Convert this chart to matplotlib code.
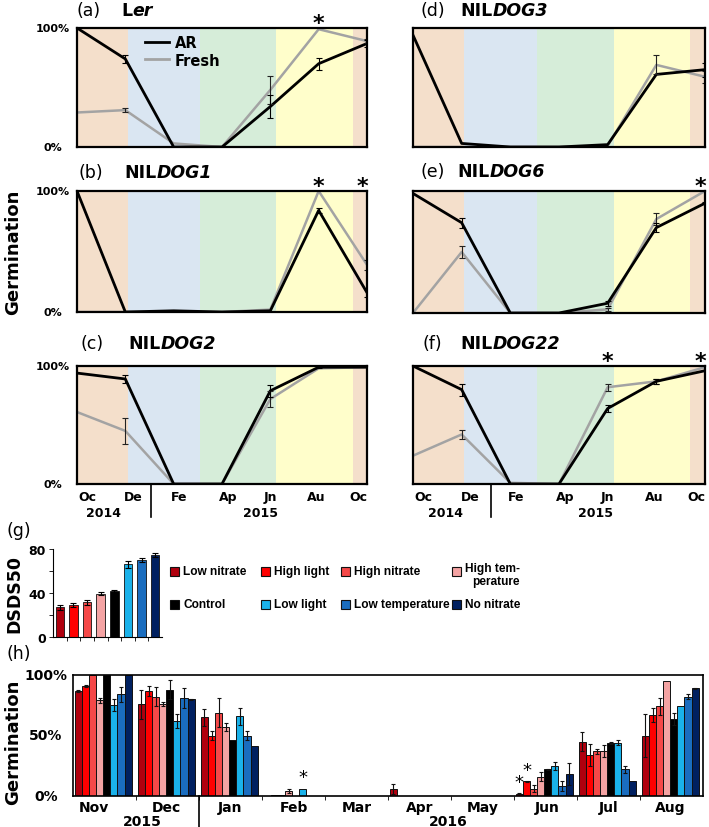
import matplotlib
matplotlib.use('Agg')
import matplotlib.pyplot as plt
from matplotlib.patches import Rectangle
from matplotlib.lines import Line2D
import matplotlib.transforms as mtransforms
import numpy as np

plt.rcParams['font.family'] = 'DejaVu Sans'

# ---------------- data: panels (a)-(f) ----------------
months_top = ['Oc', 'De', 'Fe', 'Ap', 'Jn', 'Au', 'Oc']
years_top = ['2014', '2015']

ler_ar = [100, 74, 0, 0, 34, 70, 87]
ler_ar_err = [0, 3, 0, 0, 10, 5, 3]
ler_fresh = [29, 31, 3, 0, 48, 99, 89]
ler_fresh_err = [0, 2, 0, 0, 12, 0, 2]

dog1_ar = [100, 0, 1, 0, 1, 84, 16]
dog1_ar_err = [0, 0, 0, 0, 0, 2, 4]
dog1_fresh = [0, 0, 0, 0, 2, 100, 39]
dog1_fresh_err = [0, 0, 0, 0, 0, 0, 4]

dog2_ar = [94, 89, 0, 0, 79, 99, 99]
dog2_ar_err = [0, 3, 0, 0, 5, 1, 0]
dog2_fresh = [61, 45, 0, 0, 72, 98, 99]
dog2_fresh_err = [0, 11, 0, 0, 7, 0, 0]

dog3_ar = [94, 3, 0, 0, 2, 61, 65]
dog3_ar_err = [0, 0, 0, 0, 0, 0, 6]
dog3_fresh = [0, 0, 0, 0, 1, 69, 59]
dog3_fresh_err = [0, 0, 0, 0, 0, 8, 5]

dog6_ar = [98, 74, 0, 0, 8, 70, 90]
dog6_ar_err = [0, 4, 0, 0, 2, 4, 1]
dog6_fresh = [0, 50, 0, 0, 3, 77, 100]
dog6_fresh_err = [0, 5, 0, 0, 1, 5, 0]

dog22_ar = [100, 80, 0, 0, 64, 87, 96]
dog22_ar_err = [0, 5, 0, 0, 3, 2, 0]
dog22_fresh = [24, 42, 1, 0, 82, 87, 99]
dog22_fresh_err = [0, 4, 0, 0, 3, 2, 0]

# ---------------- data: panel (g) ----------------
treatments = ['Low nitrate', 'High light', 'High nitrate', 'High tem-\nperature',
              'Control', 'Low light', 'Low temperature', 'No nitrate']
dsds50 = [27, 29, 31.5, 39.5, 41.5, 66, 70, 74.5]
dsds50_err = [2, 2, 2, 1.5, 1.5, 3.5, 2, 1.5]

# ---------------- data: panel (h) ----------------
months_h = ['Nov', 'Dec', 'Jan', 'Feb', 'Mar', 'Apr', 'May', 'Jun', 'Jul', 'Aug']
years_h = ['2015', '2016']
germ_low_nitrate = [87, 76, 65, 0, 0, 6, 0, 2, 45, 50]
germ_low_nitrate_err = [1, 12, 7, 0, 0, 4, 0, 0.5, 8, 18]
germ_high_light = [91, 87, 50, 0.5, 0, 0, 0, 12, 34, 67]
germ_high_light_err = [1, 4, 4, 0, 0, 0, 0, 0.5, 9, 6]
germ_high_nitrate = [100, 82, 69, 1, 0, 0, 0, 6, 37, 74]
germ_high_nitrate_err = [0, 8, 12, 0, 0, 0, 0, 3, 2, 7]
germ_high_temp = [79, 76, 57, 4, 0, 0, 0, 16, 37, 95]
germ_high_temp_err = [2, 2, 3, 1.5, 0, 0, 0, 4, 5, 0]
germ_control = [100, 88, 46, 0, 0, 0, 0, 22, 44, 64]
germ_control_err = [0, 8, 0, 0, 0, 0, 0, 0.5, 1, 5]
germ_low_light = [75, 62, 66, 6, 0, 0, 0, 25, 44, 74]
germ_low_light_err = [5, 6, 7, 0, 0, 0, 0, 3.5, 2, 0]
germ_low_temp = [84, 81, 50, 0, 0, 0, 0, 8, 22, 82]
germ_low_temp_err = [6, 8, 4, 0, 0, 0, 0, 4, 3, 2]
germ_no_nitrate = [100, 80, 41, 0, 0, 0, 0, 18, 12, 89]
germ_no_nitrate_err = [0, 0.5, 0, 0, 0, 0, 0, 9, 0, 0.5]

# ---------------- styles ----------------
colors = ['#B0000E', '#FF0000', '#F54848', '#F4A3A3', '#000000',
          '#1AB2EA', '#1A6DBF', '#002060']
PEACH, BLUE, GREEN, YELLOW = '#F4DFCB', '#DAE6F2', '#D6EDD9', '#FFFECB'
season_bounds = [(0, 1.05, PEACH), (1.05, 2.55, BLUE), (2.55, 4.12, GREEN),
                 (4.12, 5.7, YELLOW), (5.7, 6.0, PEACH)]

W, H = 709, 828
fig = plt.figure(figsize=(W / 100, H / 100), dpi=100)


def ax_px(x0, y0, x1, y1):
    return fig.add_axes([x0 / W, 1 - y1 / H, (x1 - x0) / W, (y1 - y0) / H])


def fig_xy(x, y):
    return x / W, 1 - y / H


def panel_title(label, xlab, xname, y, plain, ital):
    fx, fy = fig_xy(xlab, y)
    fig.text(fx, fy, label, fontsize=12.5, va='center', ha='left')
    fx2, _ = fig_xy(xname, y)
    t1 = fig.text(fx2, fy, plain, fontsize=12.5, fontweight='bold', va='center', ha='left')
    fig.canvas.draw()
    bb = t1.get_window_extent()
    fig.text(bb.x1 / W, fy, ital, fontsize=12.5, fontweight='bold',
             fontstyle='italic', va='center', ha='left')


def top_panel(box, ar, ar_err, fr, fr_err, ylabels, xlabels, stars, sep_x,
              year_pos):
    ax = ax_px(*box)
    x = np.arange(len(ar))
    for a, b, c in season_bounds:
        ax.axvspan(a, b, color=c, lw=0, zorder=0)
    ax.plot(x, np.array(fr) / 100, color='#A3A3A3', lw=1.8, zorder=2, label='Fresh')
    ax.plot(x, np.array(ar) / 100, color='black', lw=2.0, zorder=3, label='AR')
    fe = np.array(fr_err) / 100
    ae = np.array(ar_err) / 100
    m = fe > 0
    ax.errorbar(x[m], np.array(fr)[m] / 100, yerr=fe[m], fmt='none',
                ecolor='#222222', elinewidth=0.8, capsize=2, capthick=0.8, zorder=4)
    m = ae > 0
    ax.errorbar(x[m], np.array(ar)[m] / 100, yerr=ae[m], fmt='none',
                ecolor='black', elinewidth=0.8, capsize=2, capthick=0.8, zorder=4)
    ax.set_xlim(0, 6)
    ax.set_ylim(0, 1)
    ax.set_xticks([])
    ax.set_yticks([])
    for s in ax.spines.values():
        s.set_linewidth(1.6)
        s.set_zorder(5)
    tr = mtransforms.blended_transform_factory(ax.transAxes, ax.transData)
    if ylabels:
        xc = (53 - box[0]) / (box[2] - box[0])
        ax.text(xc, 1.0, '100%', transform=tr, ha='center', va='center',
                fontsize=8, fontweight='bold')
        ax.text(xc, 0.0, '0%', transform=tr, ha='center', va='center',
                fontsize=8, fontweight='bold')
    for sx in stars:
        ax.annotate('*', xy=(min(sx, 5.9), 1.0), xycoords=('data', 'axes fraction'),
                    xytext=(0, -1), textcoords='offset points', ha='center',
                    va='baseline', fontsize=16, fontweight='bold', annotation_clip=False)
    if xlabels:
        pos = [0.22, 1.17, 2.12, 3.12, 4.0, 4.95, 5.82]
        trx = mtransforms.blended_transform_factory(ax.transData, ax.transAxes)
        for p, lab in zip(pos, months_top):
            ax.text(p, -0.11, lab, transform=trx, ha='center', va='center',
                    fontsize=9, fontweight='bold')
        ax.text(year_pos[0], -0.245, years_top[0], transform=trx, ha='center',
                va='center', fontsize=9, fontweight='bold')
        ax.text(year_pos[1], -0.245, years_top[1], transform=trx, ha='center',
                va='center', fontsize=9, fontweight='bold')
        ax.add_line(Line2D([sep_x, sep_x], [0, -0.28], transform=trx, color='black',
                           lw=1.2, clip_on=False))
    return ax


axa = top_panel((77, 29, 367, 148), ler_ar, ler_ar_err, ler_fresh, ler_fresh_err,
                True, False, [5], None, None)
axb = top_panel((77, 192, 367, 313), dog1_ar, dog1_ar_err, dog1_fresh, dog1_fresh_err,
                True, False, [5, 6], None, None)
axc = top_panel((77, 367, 367, 485), dog2_ar, dog2_ar_err, dog2_fresh, dog2_fresh_err,
                True, True, [], 1.53, (0.55, 3.8))
axd = top_panel((413, 29, 705, 148), dog3_ar, dog3_ar_err, dog3_fresh, dog3_fresh_err,
                False, False, [], None, None)
axe = top_panel((413, 192, 705, 314), dog6_ar, dog6_ar_err, dog6_fresh, dog6_fresh_err,
                False, False, [6], None, None)
axf = top_panel((413, 367, 705, 485), dog22_ar, dog22_ar_err, dog22_fresh, dog22_fresh_err,
                False, True, [4, 6], 1.6, (0.66, 3.75))

leg = axa.legend(handles=[Line2D([], [], color='black', lw=2.0),
                          Line2D([], [], color='#A3A3A3', lw=2.0)],
                 labels=['AR', 'Fresh'], loc='upper left',
                 bbox_to_anchor=(0.2, 1.03), frameon=False, handlelength=1.6,
                 handletextpad=0.45, labelspacing=0.2, borderpad=0.2,
                 prop={'weight': 'bold', 'size': 10.5})

panel_title('(a)', 77, 121, 11, 'L', 'er')
panel_title('(b)', 79, 124, 173, 'NIL', 'DOG1')
panel_title('(c)', 80, 128, 344, 'NIL', 'DOG2')
panel_title('(d)', 421, 460, 11, 'NIL', 'DOG3')
panel_title('(e)', 420, 457, 172, 'NIL', 'DOG6')
panel_title('(f)', 422, 460, 344, 'NIL', 'DOG22')

fx, fy = fig_xy(13, 252)
fig.text(fx, fy, 'Germination', rotation=90, ha='center', va='center',
         fontsize=13, fontweight='bold')

# ---------------- panel (g) ----------------
axg = ax_px(53, 550, 162, 638)
xg = np.arange(len(dsds50))
axg.bar(xg, dsds50, width=0.62, color=colors, edgecolor='#111111', lw=0.6,
        yerr=dsds50_err, error_kw=dict(elinewidth=0.8, capsize=2, capthick=0.8))
axg.set_xlim(-0.5, 7.5)
axg.set_ylim(0, 80)
axg.set_yticks([0, 40, 80])
axg.set_yticklabels(['0', '40', '80'], fontsize=9, fontweight='bold')
axg.set_yticks([20, 60], minor=True)
axg.set_xticks(np.arange(0.5, 7, 1))
axg.set_xticklabels([])
axg.tick_params(axis='x', length=3, width=0.6, direction='out')
axg.tick_params(axis='y', which='both', length=3, width=0.6, pad=2)
axg.spines['top'].set_visible(False)
axg.spines['right'].set_visible(False)
for s in ('left', 'bottom'):
    axg.spines[s].set_linewidth(0.8)
fx, fy = fig_xy(14, 594)
fig.text(fx, fy, 'DSDS50', rotation=90, ha='center', va='center', fontsize=12.5,
         fontweight='bold')
fx, fy = fig_xy(6, 531)
fig.text(fx, fy, '(g)', fontsize=12.5, va='center', ha='left')

# legend for (g), manual layout
leg_cols = [170, 261, 341, 452]
leg_rows = [572, 605]
LFONT = 'Liberation Sans'
for i, lab in enumerate(treatments):
    r, c = divmod(i, 4)
    x0, y0 = leg_cols[c], leg_rows[r]
    fx, fy = fig_xy(x0, y0 + 4.5)
    fig.patches.append(Rectangle((fx, fy), 9 / W, 9 / H, transform=fig.transFigure,
                                 facecolor=colors[i], edgecolor='#111111', lw=0.8))
    tx, ty = fig_xy(x0 + 13, y0)
    if '\n' in lab:
        fig.text(tx, ty, lab, fontsize=8.6, fontweight='bold', family=LFONT,
                 va='top', ha='left', multialignment='right', linespacing=1.1,
                 transform=fig.transFigure + mtransforms.ScaledTranslation(0, 6.5 / 72, fig.dpi_scale_trans))
    else:
        fig.text(tx, ty, lab, fontsize=8.6, fontweight='bold', family=LFONT,
                 va='center', ha='left')

# ---------------- panel (h) ----------------
axh = ax_px(73, 676, 703, 797)
series_h = [(germ_low_nitrate, germ_low_nitrate_err),
            (germ_high_light, germ_high_light_err),
            (germ_high_nitrate, germ_high_nitrate_err),
            (germ_high_temp, germ_high_temp_err),
            (germ_control, germ_control_err),
            (germ_low_light, germ_low_light_err),
            (germ_low_temp, germ_low_temp_err),
            (germ_no_nitrate, germ_no_nitrate_err)]
bw = 0.9 / 8
gx = np.arange(len(months_h))
for k, (vals, errs) in enumerate(series_h):
    v = np.array(vals) / 100
    e = np.array(errs) / 100
    xs = gx + 0.03 + bw * (k + 0.5)
    axh.bar(xs, v, width=bw, color=colors[k], edgecolor='#111111', lw=0.7, zorder=2)
    m = e > 0
    axh.errorbar(xs[m], v[m], yerr=e[m], fmt='none', ecolor='#111111',
                 elinewidth=0.8, capsize=1.6, capthick=0.8, zorder=3)
axh.set_xlim(0, 10)
axh.set_ylim(0, 1)
axh.set_yticks([])
axh.set_xticks(np.arange(1, 10))
axh.set_xticklabels([])
axh.tick_params(axis='x', length=3, width=0.6, direction='out')
for s in axh.spines.values():
    s.set_linewidth(1.2)
trh = mtransforms.blended_transform_factory(axh.transAxes, axh.transData)
xc = (46 - 73) / 630
for yv, lab in [(1.0, '100%'), (0.5, '50%'), (0.0, '0%')]:
    axh.text(xc, yv, lab, transform=trh, ha='center', va='center', fontsize=10,
             fontweight='bold')
trx = mtransforms.blended_transform_factory(axh.transData, axh.transAxes)
month_pos_h = [0.33, 1.48, 2.5, 3.5, 4.5, 5.5, 6.5, 7.52, 8.5, 9.48]
for p, lab in zip(month_pos_h, months_h):
    axh.text(p, -0.09, lab, transform=trx, ha='center', va='center',
             fontsize=10, fontweight='bold')
axh.text(1.1, -0.21, years_h[0], transform=trx, ha='center', va='center',
         fontsize=10, fontweight='bold')
axh.text(5.95, -0.21, years_h[1], transform=trx, ha='center', va='center',
         fontsize=10, fontweight='bold')
axh.add_line(Line2D([2, 2], [0, -0.27], transform=trx, color='black', lw=1.2,
                    clip_on=False))
# significance stars in (h)
star_marks = [(3, 5, germ_low_light), (7, 0, germ_low_nitrate), (7, 1, germ_high_light)]
for g, k, vals in star_marks:
    xs = g + 0.03 + bw * (k + 0.5)
    axh.annotate('*', xy=(xs, vals[g] / 100), xytext=(0, 4.5), textcoords='offset points',
                 ha='center', va='baseline', fontsize=13)
fx, fy = fig_xy(13, 742)
fig.text(fx, fy, 'Germination', rotation=90, ha='center', va='center', fontsize=13,
         fontweight='bold')
fx, fy = fig_xy(6, 654)
fig.text(fx, fy, '(h)', fontsize=12.5, va='center', ha='left')

fig.savefig('out.png', dpi=100)
